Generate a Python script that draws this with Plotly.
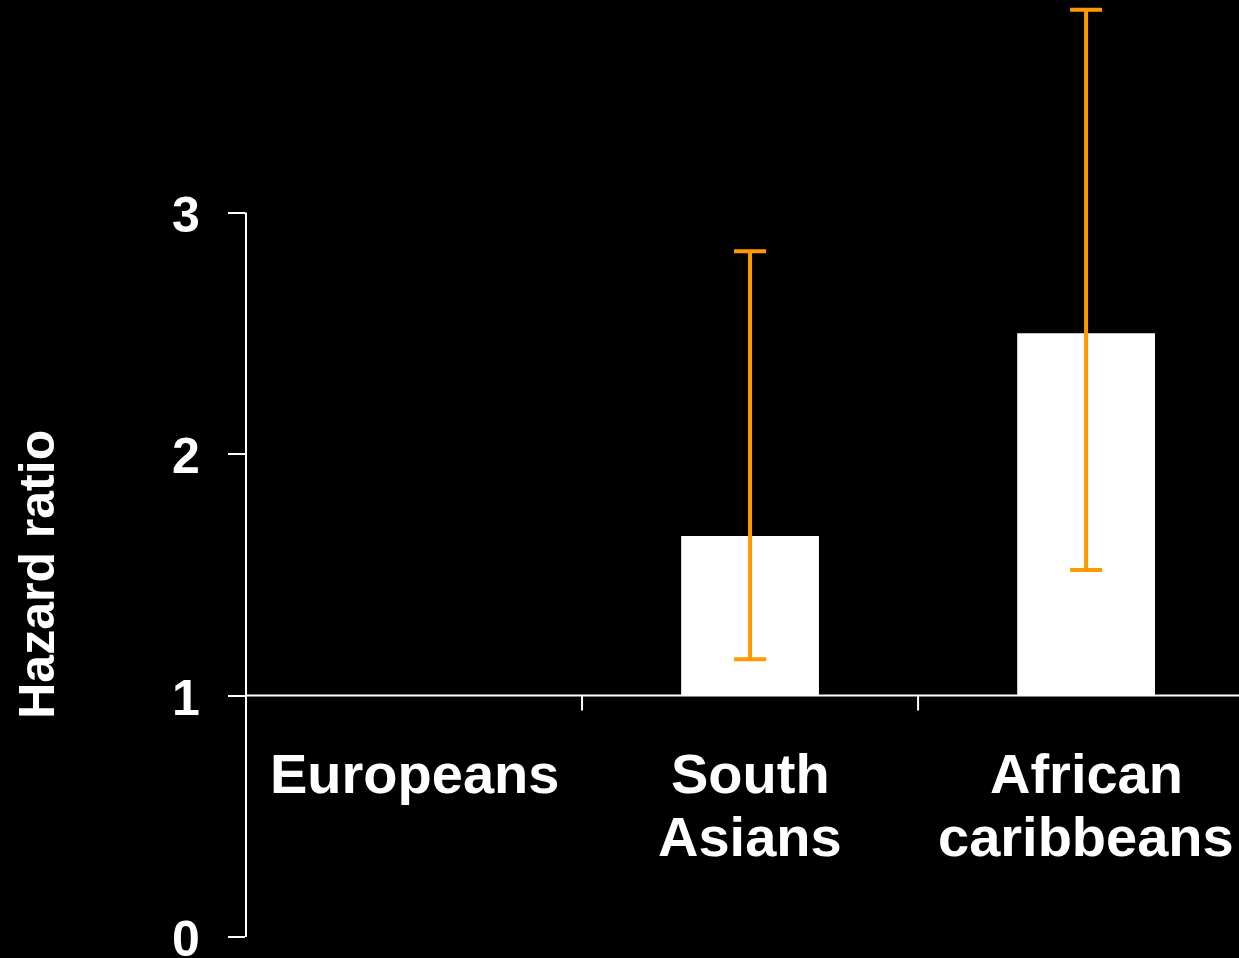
import plotly.graph_objects as go

# Hazard ratios by ethnic group (Europeans = reference group)
groups = ["Europeans", "South<br>Asians", "African<br>caribbeans"]
hazard_ratio = [1.0, 1.66, 2.50]
ci_upper = [None, 2.84, 3.84]
ci_lower = [None, 1.15, 1.52]
ytick_vals = [0, 1, 2, 3]
ref_line = 1.0

WHITE = "#FFFFFF"
ORANGE = "#FF9900"
FONT = "Liberation Sans, Arial, sans-serif"

fig = go.Figure()
# bars rise from the reference line
fig.add_trace(go.Bar(
    x=groups,
    y=[h - ref_line for h in hazard_ratio],
    base=ref_line,
    width=0.41,
    marker=dict(color=WHITE, line=dict(width=0)),
    hoverinfo="skip",
))

# confidence intervals (only groups that have one)
ci_idx = [i for i, u in enumerate(ci_upper) if u is not None]
fig.add_trace(go.Scatter(
    x=[groups[i] for i in ci_idx],
    y=[hazard_ratio[i] for i in ci_idx],
    mode="markers",
    marker=dict(size=0.1, color=ORANGE, opacity=0),
    error_y=dict(type="data", symmetric=False,
                 array=[ci_upper[i] - hazard_ratio[i] for i in ci_idx],
                 arrayminus=[hazard_ratio[i] - ci_lower[i] for i in ci_idx],
                 color=ORANGE, thickness=4, width=16),
    hoverinfo="skip",
    cliponaxis=False,
))

annotations = []
# category labels, one line per annotation
for g in groups:
    for i, line in enumerate(g.split("<br>")):
        annotations.append(dict(
            x=g, y=ref_line, xref="x", yref="y", text=f"<b>{line}</b>",
            showarrow=False, yanchor="middle", yshift=-78 - 63 * i,
            font=dict(family=FONT, size=56, color=WHITE),
        ))
# y tick labels
for v in ytick_vals:
    annotations.append(dict(
        x=0, y=v, xref="paper", yref="y", text=f"<b>{v}</b>",
        showarrow=False, xanchor="right", yanchor="middle", xshift=-44, yshift=-2,
        font=dict(family=FONT, size=50, color=WHITE),
    ))
annotations.append(dict(
    x=0, y=1.5, xref="paper", yref="y", text="<b>Hazard ratio</b>",
    textangle=-90, showarrow=False, xanchor="center", yanchor="middle",
    xshift=-209, font=dict(family=FONT, size=50, color=WHITE),
))

shapes = [
    # vertical axis spine from 0 to 3
    dict(type="line", xref="paper", yref="y", x0=0, x1=0, y0=0, y1=3,
         line=dict(color=WHITE, width=2)),
    # reference line at HR = 1
    dict(type="line", xref="paper", yref="y", x0=0, x1=1, y0=ref_line, y1=ref_line,
         line=dict(color=WHITE, width=2)),
]
# category boundary ticks below the reference line
for b in [0.5, 1.5]:
    shapes.append(dict(type="line", xref="x", yref="y", ysizemode="pixel", yanchor=ref_line,
                       x0=b, x1=b, y0=0, y1=-15, line=dict(color=WHITE, width=2)))

fig.update_layout(
    width=1239, height=958,
    margin=dict(l=246, r=0, t=0, b=21),
    paper_bgcolor="black", plot_bgcolor="black",
    showlegend=False,
    xaxis=dict(range=[-0.5, 2.455], showticklabels=False, showline=False,
               showgrid=False, zeroline=False, ticks=""),
    yaxis=dict(range=[0, 3.88], tickvals=ytick_vals, showticklabels=False,
               ticks="outside", ticklen=17, tickwidth=2, tickcolor=WHITE,
               showline=False, showgrid=False, zeroline=False),
    annotations=annotations,
    shapes=shapes,
)

fig.write_html("out.html")
